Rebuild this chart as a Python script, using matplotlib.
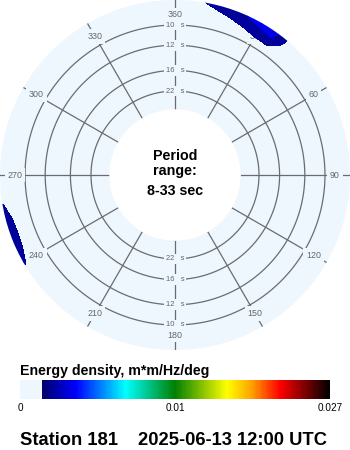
import numpy as np
import matplotlib
matplotlib.use("Agg")
import matplotlib.pyplot as plt
from matplotlib.colors import LinearSegmentedColormap, TwoSlopeNorm
from matplotlib.cm import ScalarMappable

# --- data -------------------------------------------------------------
station = "Station 181"
stamp = "2025-06-13 12:00 UTC"
period_range = "8-33 sec"

ring_periods = [10, 12, 16, 22]                      # seconds
spoke_dirs = [0, 30, 60, 90, 120, 150, 180, 210, 240, 270, 300, 330]
spoke_labels = ["360", "30", "60", "90", "120", "150",
                "180", "210", "240", "270", "300", "330"]

cbar_ticks = [0, 0.01, 0.027]
cbar_ticklabels = ["0", "0.01", "0.027"]

# energy density (m*m/Hz/deg), rows = frequency, cols = direction
ne_dirs = [5, 10, 15, 20, 25, 30, 35, 40, 45]
ne_freqs = [0.105, 0.110, 0.115, 0.120, 0.125]
ne_energy = [
    [0.0,    0.0,    0.0,    0.0003, 0.0005, 0.0008, 0.0009, 0.0003, 0.0],
    [0.0,    0.0,    0.0005, 0.0009, 0.0013, 0.0018, 0.0019, 0.0007, 0.0],
    [0.0,    0.0007, 0.0012, 0.0016, 0.0022, 0.0028, 0.0030, 0.0011, 0.0],
    [0.0006, 0.0013, 0.0018, 0.0024, 0.0030, 0.0034, 0.0035, 0.0013, 0.0],
    [0.0009, 0.0016, 0.0022, 0.0028, 0.0033, 0.0036, 0.0036, 0.0013, 0.0],
]

sw_dirs = [235, 240, 245, 250, 255, 260, 265]
sw_freqs = [0.110, 0.115, 0.120, 0.125]
sw_energy = [
    [0.0, 0.0,    0.0002, 0.0003, 0.0002, 0.0,    0.0],
    [0.0, 0.0006, 0.0013, 0.0015, 0.0013, 0.0004, 0.0],
    [0.0, 0.0016, 0.0022, 0.0023, 0.0021, 0.0014, 0.0],
    [0.0, 0.0020, 0.0022, 0.0023, 0.0022, 0.0016, 0.0],
]

# --- style ------------------------------------------------------------
disk = "#eef6fe"
grid_c = "#6c6c6c"
f_in, f_out, f_origin = 1 / 33, 0.1207, -0.0240
threshold = 0.00136

cmap = LinearSegmentedColormap.from_list("cdip", [
    (0.0, disk), (0.0679, disk),
    (0.068, (0, 0, 0.40)), (0.18, (0, 0, 1)), (0.34, (0, 1, 1)),
    (0.50, (0, 0.5, 0)), (0.668, (1, 1, 0)), (0.745, (1, 0.65, 0)),
    (0.84, (1, 0, 0)), (1.0, (0, 0, 0)),
], N=256)
norm = TwoSlopeNorm(vmin=0, vcenter=0.01, vmax=0.027)
levels = np.concatenate([[threshold], np.linspace(0.0030, 0.027, 41)])

fig = plt.figure(figsize=(3.5, 4.5), dpi=100)
ax = fig.add_axes([0, 100 / 450, 1, 350 / 450], projection="polar")
ax.set_theta_zero_location("N")
ax.set_theta_direction(-1)
ax.set_ylim(f_in, f_out)
ax.set_rorigin(f_origin)
ax.set_facecolor(disk)
ax.grid(False)
ax.set_xticks([])
ax.set_yticks([])
# polar axes switch the inner spine back on while drawing, so blank it
for sp in ax.spines.values():
    sp.set_color("none")
    sp.set_linewidth(0)

full = np.linspace(0, 2 * np.pi, 361)
for p in ring_periods:
    ax.plot(full, np.full_like(full, 1 / p), color=grid_c, lw=0.9, zorder=2)
for d in spoke_dirs:
    t = np.deg2rad(d)
    ax.plot([t, t], [f_in, f_out], color=grid_c, lw=0.9, zorder=2)

f_lab = 0.1083
for d, lab in zip(spoke_dirs, spoke_labels):
    ax.text(np.deg2rad(d), f_lab, lab, ha="center", va="center",
            fontsize=6.4, family="Liberation Sans", color="#666666", zorder=3,
            bbox=dict(boxstyle="square,pad=0.3", fc=disk, ec="none"))

for p in ring_periods:
    for t in (0, np.pi):
        ax.text(t, 1 / p, f"{p}   s", ha="center", va="center",
                fontsize=5.4, family="Liberation Sans", color="#666666", zorder=3,
                bbox=dict(boxstyle="square,pad=0.25", fc=disk, ec="none"))

ax.contourf(np.deg2rad(ne_dirs), ne_freqs, ne_energy, levels=levels,
            cmap=cmap, norm=norm, zorder=4)
ax.contourf(np.deg2rad(sw_dirs), sw_freqs, sw_energy, levels=levels,
            cmap=cmap, norm=norm, zorder=4)

bold = dict(family="Liberation Sans", fontweight="bold", color="black")
fig.text(0.5, 1 - 159.5 / 450, "Period", ha="center", va="baseline",
         fontsize=10.3, **bold)
fig.text(0.5, 1 - 174.5 / 450, "range:", ha="center", va="baseline",
         fontsize=10.3, **bold)
fig.text(0.5, 1 - 195 / 450, period_range, ha="center", va="baseline",
         fontsize=10.3, **bold)

fig.text(20 / 350, 1 - 374.5 / 450, "Energy density, m*m/Hz/deg",
         ha="left", va="baseline", fontsize=10.2, **bold)

cax = fig.add_axes([20 / 350, 1 - 399 / 450, 310 / 350, 19 / 450])
cb = fig.colorbar(ScalarMappable(norm=norm, cmap=cmap), cax=cax,
                  orientation="horizontal", ticks=cbar_ticks)
cb.set_ticklabels(cbar_ticklabels)
cb.outline.set_visible(False)
cax.tick_params(length=0, pad=3, labelsize=7.2)
for lab in cax.get_xticklabels():
    lab.set_family("Liberation Sans")

fig.text(20 / 350, 1 - 445 / 450, station, ha="left", va="baseline",
         fontsize=13.2, **bold)
fig.text(327 / 350, 1 - 445 / 450, stamp, ha="right", va="baseline",
         fontsize=13.2, **bold)

fig.savefig("out.png", dpi=100, facecolor="white")
